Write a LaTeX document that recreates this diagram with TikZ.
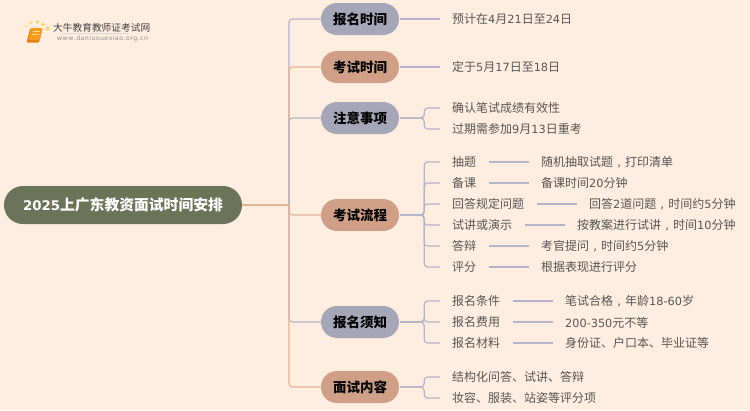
\documentclass[tikz,border=0pt]{standalone}
\usepackage{fontspec}
\setmainfont{Noto Sans CJK SC}
\newfontfamily\lat{DejaVu Sans}
\usetikzlibrary{calc}
\definecolor{bgc}{HTML}{FFEEE0}
\definecolor{lav}{HTML}{A6A6B9}
\definecolor{ora}{HTML}{CFA087}
\definecolor{rootc}{HTML}{6B7359}
\definecolor{lavl}{HTML}{B3B3C9}
\definecolor{oral}{HTML}{E2B498}
\definecolor{txt}{HTML}{555555}
\definecolor{bookc}{HTML}{F59A1E}
\definecolor{bookd}{HTML}{E07F10}
\definecolor{bookl}{HTML}{FFD98A}
\tikzset{
  x=1pt,y=-1pt,
  catnode/.style={rounded corners=15.9pt,minimum width=78pt,minimum height=32pt,inner sep=0pt,font=\fontsize{13.5}{14}\selectfont\bfseries,text=black},
  lavnode/.style={catnode,fill=lav},
  oranode/.style={catnode,fill=ora},
  rootnode/.style={rounded corners=18.9pt,minimum width=238pt,minimum height=38pt,inner sep=0pt,fill=rootc,text=white,font=\fontsize{14.8}{15}\selectfont\bfseries},
  leaf/.style={anchor=west,inner sep=0pt,yshift=-.4pt,text=txt,font=\fontsize{12}{14}\selectfont},
  lavline/.style={draw=lavl,line width=1.2pt,rounded corners=3.5pt},
  oraline/.style={draw=oral,line width=1.2pt,rounded corners=3.5pt},
}
\newcommand{\tn}[1]{{\lat\fontsize{11.3}{14}\selectfont #1}}
\newcommand{\tnb}[1]{{\lat\fontsize{13.3}{15}\selectfont #1}}
\newcommand{\ccm}{\makebox[12pt][c]{\lat ,}}
\begin{document}
\begin{tikzpicture}
\useasboundingbox (0,0) rectangle (750,410);
\fill[bgc] (0,0) rectangle (750,410);
% nodes
\node[rootnode] (root) at (123,205) {\tnb{2025}上广东教资面试时间安排};
\node[lavnode] (a) at (360,19) {报名时间};
\node[oranode] (b) at (360,67) {考试时间};
\node[lavnode] (c) at (360,118) {注意事项};
\node[oranode] (d) at (360,215) {考试流程};
\node[lavnode] (e) at (360,322) {报名须知};
\node[oranode] (f) at (360,387) {面试内容};
\coordinate (t) at (289,205);
% trunk
\draw[oraline] (root.east) -- (t);
\draw[lavline] (t) |- (a.west);
\draw[oraline] (t) |- (b.west);
\draw[lavline] (t) |- (c.west);
\draw[oraline] (t) |- (d.west);
\draw[lavline] (t) |- (e.west);
\draw[oraline] (t) |- (f.west);
% leaves
\node[leaf] (a1) at (452,19) {预计在\tn{4}月\tn{21}日至\tn{24}日};
\node[leaf] (b1) at (452,67) {定于\tn{5}月\tn{17}日至\tn{18}日};
\node[leaf] (c1) at (452,108) {确认笔试成绩有效性};
\node[leaf] (c2) at (452,129) {过期需参加\tn{9}月\tn{13}日重考};
\node[leaf] (d1) at (452,162) {抽题};
\node[leaf] (d2) at (452,183) {备课};
\node[leaf] (d3) at (452,204) {回答规定问题};
\node[leaf] (d4) at (452,225) {试讲或演示};
\node[leaf] (d5) at (452,246) {答辩};
\node[leaf] (d6) at (452,267) {评分};
\node[leaf] (d1x) at (541,162) {随机抽取试题\ccm 打印清单};
\node[leaf] (d2x) at (541,183) {备课时间\tn{20}分钟};
\node[leaf] (d3x) at (589,204) {回答\tn{2}道问题\ccm 时间约\tn{5}分钟};
\node[leaf] (d4x) at (577,225) {按教案进行试讲\ccm 时间\tn{10}分钟};
\node[leaf] (d5x) at (541,246) {考官提问\ccm 时间约\tn{5}分钟};
\node[leaf] (d6x) at (541,267) {根据表现进行评分};
\node[leaf] (e1) at (452,301) {报名条件};
\node[leaf] (e2) at (452,322) {报名费用};
\node[leaf] (e3) at (452,343) {报名材料};
\node[leaf] (e1x) at (565,301) {笔试合格\ccm 年龄\tn{18-60}岁};
\node[leaf] (e2x) at (565,322) {\tn{200-350}元不等};
\node[leaf] (e3x) at (565,343) {身份证、户口本、毕业证等};
\node[leaf] (f1) at (452,377) {结构化问答、试讲、答辩};
\node[leaf] (f2) at (452,398) {妆容、服装、站姿等评分项};
% connectors
\draw[lavline] (a.east) ++(1,0) -- ($(a1.west)+(-12,-.4)$);
\draw[lavline] (b.east) ++(1,0) -- ($(b1.west)+(-12,-.4)$);
\foreach \p/\k in {c/c1,c/c2,d/d1,d/d2,d/d3,d/d4,d/d5,d/d6,e/e1,e/e2,e/e3,f/f1,f/f2}{
  \draw[lavline] ($(\p.east)+(1,0)$) -- ($(\p.east)+(25,0)$) |- ($(\k.west)+(-12,-.4)$);
}
\foreach \s/\k in {d1/d1x,d2/d2x,d3/d3x,d4/d4x,d5/d5x,d6/d6x,e1/e1x,e2/e2x,e3/e3x}{
  \draw[lavline] ($(\k.west)+(-52,-.4)$) -- ($(\k.west)+(-12,-.4)$);
}
% logo
\node[inner sep=0pt,anchor=west,text=black!75,font=\fontsize{9.7}{11}\selectfont] (lg1) at (53,27.5) {大牛教育教师证考试网};
\node[inner sep=0pt,anchor=west,text=black!45,font=\lat\fontsize{6.2}{8}\selectfont] (lg2) at (57,39) {w\kern.47pt w\kern.47pt w\kern.47pt .\kern.47pt d\kern.47pt a\kern.47pt n\kern.47pt i\kern.47pt u\kern.47pt x\kern.47pt u\kern.47pt e\kern.47pt x\kern.47pt i\kern.47pt a\kern.47pt o\kern.47pt .\kern.47pt o\kern.47pt r\kern.47pt g\kern.47pt .\kern.47pt c\kern.47pt n};
\draw[black!15,line width=.7pt] (62,33.5) -- (128,33.5);
\foreach \px/\py/\r/\c in {47.5/28.5/2.2/FFD76A,43/24.5/1.8/FFCF60,37.5/22/1.8/FFD060,31/22.5/1.7/FFD878,26/26/1.4/FFE090,22.5/31/1.1/FFE8B0,22/36/.9/FFEFC8,23.5/42/.7/FFF0D8}{
  \definecolor{dc}{HTML}{\c}
  \fill[dc] (\px,\py) circle (\r);
}
\fill[bookd,rounded corners=1pt] (30,28.5) -- (42.5,28.5) -- (39,42.5) -- (26.5,42.5) -- cycle;
\fill[bookc,rounded corners=1pt] (31,28) -- (42.5,28) -- (39.8,40) -- (28.2,40) -- cycle;
\draw[bookl,line width=.8pt] (33,31.5) -- (39.5,31.5) (32.4,34.5) -- (38.8,34.5);
\end{tikzpicture}
\end{document}
